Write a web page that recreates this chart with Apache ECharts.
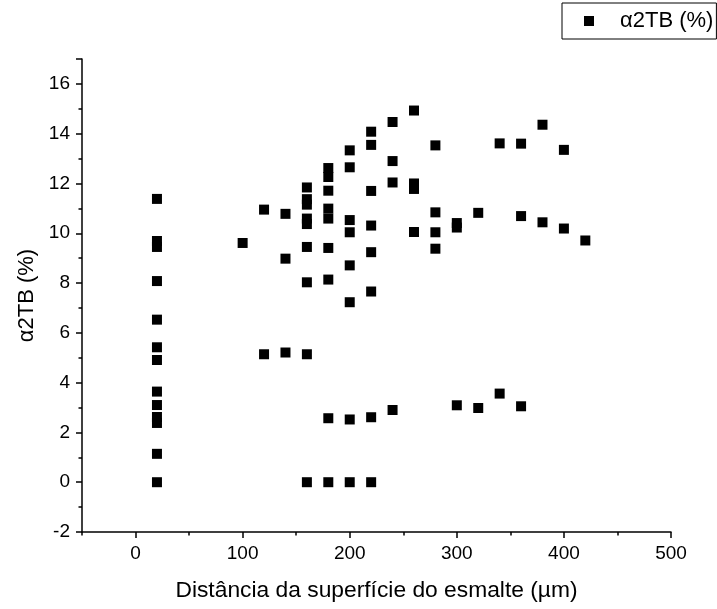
<!DOCTYPE html>
<html>

<head>
  <meta charset="utf-8">
  <title>α2TB vs distância</title>
  <script src="https://cdn.jsdelivr.net/npm/echarts@6/dist/echarts.min.js"></script>
</head>

<body style="margin:0">
  <div id="main" style="width: 717px;height:609px;"></div>
  <script type="text/javascript">
    // distance from enamel surface (µm) and alpha2TB (%) - one entry per point
    var distancia = [
      20, 20, 20, 20, 20, 20, 20, 20, 20, 20, 20, 20, 20,
      100,
      120, 120,
      140, 140, 140,
      160, 160, 160, 160, 160, 160, 160, 160, 160,
      180, 180, 180, 180, 180, 180, 180, 180, 180,
      200, 200, 200, 200, 200, 200, 200, 200,
      220, 220, 220, 220, 220, 220, 220, 220,
      240, 240, 240, 240,
      260, 260, 260, 260,
      280, 280, 280, 280,
      300, 300, 300,
      320, 320,
      340, 340,
      360, 360, 360,
      380, 380,
      400, 400,
      420
    ];
    var alpha2TB = [
      11.38, 9.69, 9.45, 8.08, 6.53, 5.42, 4.91, 3.64, 3.10, 2.62, 2.38, 1.14, 0,
      9.61,
      10.95, 5.14,
      10.78, 8.98, 5.21,
      11.84, 11.37, 11.15, 10.59, 10.37, 9.45, 8.03, 5.14, 0,
      12.62, 12.26, 11.71, 10.99, 10.59, 9.41, 8.14, 2.57, 0,
      13.33, 12.65, 10.53, 10.04, 8.71, 7.23, 2.52, 0,
      14.08, 13.55, 11.70, 10.31, 9.24, 7.66, 2.61, 0,
      14.47, 12.90, 12.04, 2.90,
      14.93, 12.00, 11.78, 10.05,
      13.53, 10.84, 10.04, 9.38,
      10.41, 10.23, 3.09,
      10.82, 2.98,
      13.61, 3.56,
      13.60, 10.69, 3.05,
      14.36, 10.44,
      13.35, 10.19,
      9.71
    ];
    var xTicks = [0, 100, 200, 300, 400, 500];

    var points = distancia.map(function (d, i) {
      return [d, alpha2TB[i]];
    });

    var font = 'Liberation Sans, Arial, sans-serif';
    var axisLine = { onZero: false, lineStyle: { color: '#000', width: 1.5 } };

    var myChart = echarts.init(document.getElementById('main'));

    var option = {
      animation: false,
      backgroundColor: '#fff',
      textStyle: { fontFamily: font, color: '#000' },
      grid: { left: 82, right: 46, top: 59, bottom: 77 },
      legend: {
        left: 562,
        top: 3,
        orient: 'vertical',
        borderColor: '#000',
        borderWidth: 1,
        borderRadius: 0,
        padding: [7, 3, 7, 22],
        itemWidth: 10,
        itemHeight: 10,
        icon: 'rect',
        itemStyle: { opacity: 1 },
        textStyle: { fontSize: 22, color: '#000', fontFamily: font, padding: [0, 0, 0, 21] },
        data: ['α2TB (%)']
      },
      xAxis: [
        {
          type: 'value',
          min: -50,
          max: 500,
          name: 'Distância da superfície do esmalte (µm)',
          nameLocation: 'middle',
          nameGap: 47,
          nameTextStyle: { fontSize: 22.8, color: '#000', fontFamily: font },
          axisLine: axisLine,
          axisTick: { show: true, length: 6, lineStyle: { color: '#000', width: 1.5 }, customValues: xTicks },
          axisLabel: { fontSize: 19, color: '#000', margin: 12, customValues: xTicks },
          splitLine: { show: false }
        },
        {
          // minor ticks every 50
          type: 'value',
          position: 'bottom',
          min: -50,
          max: 500,
          interval: 50,
          axisLine: { show: false, onZero: false },
          axisTick: { show: true, length: 3.5, lineStyle: { color: '#000', width: 1.5 } },
          axisLabel: { show: false },
          splitLine: { show: false }
        }
      ],
      yAxis: {
        type: 'value',
        min: -2,
        max: 17,
        interval: 2,
        name: 'α2TB (%)',
        nameLocation: 'middle',
        nameGap: 38,
        nameTextStyle: { fontSize: 22, color: '#000', fontFamily: font },
        axisLine: axisLine,
        axisTick: { show: true, length: 6, lineStyle: { color: '#000', width: 1.5 } },
        minorTick: { show: true, splitNumber: 2, length: 3.5, lineStyle: { color: '#000', width: 1.5 } },
        axisLabel: { fontSize: 19, color: '#000', margin: 12, showMaxLabel: false },
        splitLine: { show: false }
      },
      series: [
        {
          name: 'α2TB (%)',
          type: 'scatter',
          xAxisIndex: 0,
          symbol: 'rect',
          symbolSize: 10,
          itemStyle: { color: '#000', opacity: 1 },
          data: points
        }
      ]
    };

    myChart.setOption(option);
  </script>
</body>

</html>
